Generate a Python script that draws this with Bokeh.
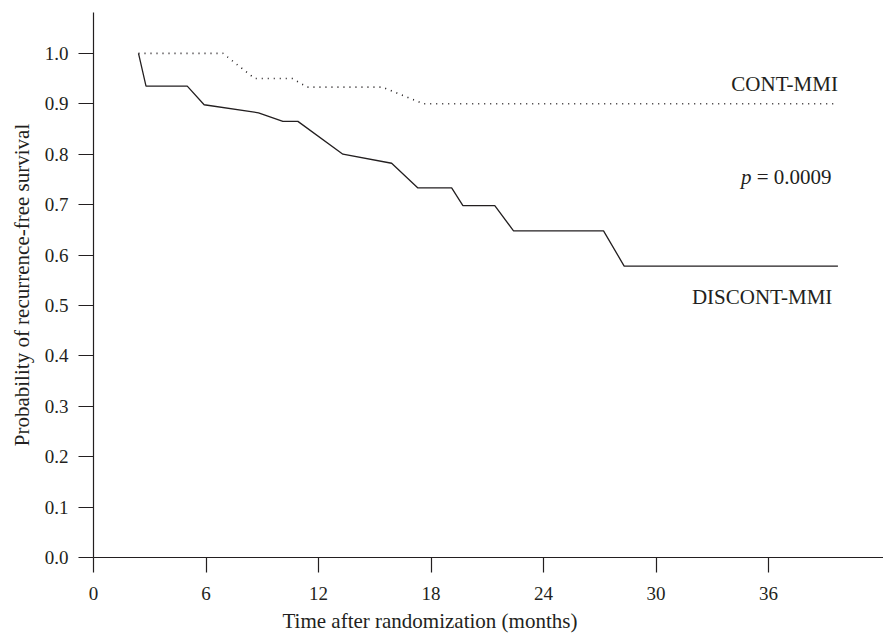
from bokeh.plotting import figure
from bokeh.models import Range1d, FixedTicker, Label, Title
from bokeh.embed import file_html
from bokeh.resources import INLINE

# ---- data ----
cont_t = [2.4, 6.9, 8.6, 10.6, 11.4, 15.4, 17.6, 39.7]
cont_s = [1.0, 1.0, 0.95, 0.95, 0.933, 0.933, 0.9, 0.9]

disc_t = [2.4, 2.8, 5.0, 5.9, 8.8, 10.1, 10.9, 13.3, 15.9, 17.3, 19.1, 19.7, 21.4, 22.4, 27.2, 28.3, 39.7]
disc_s = [1.0, 0.935, 0.935, 0.898, 0.882, 0.865, 0.865, 0.80, 0.782, 0.733, 0.733, 0.698, 0.698, 0.648, 0.648, 0.578, 0.578]

x_ticks = [0, 6, 12, 18, 24, 30, 36]
y_ticks = [0.0, 0.1, 0.2, 0.3, 0.4, 0.5, 0.6, 0.7, 0.8, 0.9, 1.0]

FONT = "Liberation Serif"
INK = "#231f20"

p = figure(width=883, height=637, output_backend="svg", toolbar_location=None,
           x_range=Range1d(0, 42.13), y_range=Range1d(0, 1.081),
           min_border_left=93, min_border_right=0, min_border_top=12, min_border_bottom=79)
p.outline_line_color = None
p.grid.visible = False
p.background_fill_color = "white"

p.line(disc_t, disc_s, line_color=INK, line_width=1.3)
p.line(cont_t, cont_s, line_color=INK, line_width=1.6, line_dash="1 5")

for ax in (p.xaxis[0], p.yaxis[0]):
    ax.axis_line_color = INK
    ax.axis_line_width = 1.2
    ax.major_tick_line_color = INK
    ax.major_tick_line_width = 1.2
    ax.major_tick_out = 15
    ax.major_tick_in = 0
    ax.minor_tick_line_color = None
    ax.major_label_text_font = FONT
    ax.major_label_text_font_size = "19px"
    ax.major_label_text_color = INK
    ax.axis_label_text_font = FONT
    ax.axis_label_text_font_size = "21px"
    ax.axis_label_text_font_style = "normal"
    ax.axis_label_text_color = INK

p.xaxis[0].ticker = FixedTicker(ticks=x_ticks)
p.yaxis[0].ticker = FixedTicker(ticks=y_ticks)
p.yaxis[0].major_label_overrides = {v: f"{v:.1f}" for v in y_ticks}
p.xaxis[0].major_label_standoff = 14
p.yaxis[0].major_label_standoff = 10
p.yaxis[0].axis_label = "Probability of recurrence-free survival"
p.yaxis[0].axis_label_standoff = 8

p.add_layout(Title(text="Time after randomization (months)", align="left", offset=189,
                   text_font=FONT, text_font_size="21px", text_font_style="normal",
                   text_color=INK, standoff=9), "below")

def lab(x, y, t, style="normal", xo=0):
    p.add_layout(Label(x=x, y=y, text=t, text_font=FONT, text_font_size="21px",
                       text_color=INK, text_align="right", text_baseline="middle",
                       text_font_style=style, x_offset=xo))

lab(39.7, 0.939, "CONT-MMI")
lab(39.36, 0.754, "= 0.0009")
lab(39.36, 0.754, "p", style="italic", xo=-80)
lab(39.4, 0.517, "DISCONT-MMI")

open("out.html", "w").write(file_html(p, INLINE))
